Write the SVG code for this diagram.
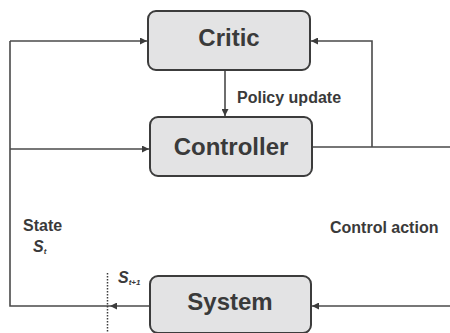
<svg xmlns="http://www.w3.org/2000/svg" width="450" height="333" viewBox="0 0 450 333">
<style>
.box{fill:#e3e3e4;stroke:#3c3c3c;stroke-width:2}
.big{font-family:"Liberation Sans",Arial,sans-serif;font-weight:bold;font-size:24px;fill:#3a3a3a;text-anchor:middle}
.lbl{font-family:"Liberation Sans",Arial,sans-serif;font-weight:bold;font-size:16px;fill:#3a3a3a}
.sym{font-family:"Liberation Sans",Arial,sans-serif;font-weight:bold;font-style:italic;fill:#3a3a3a}
.ln{fill:none;stroke:#4a4a4a;stroke-width:1.6}
</style>
<defs>
<marker id="ah" viewBox="0 0 10 10" refX="10" refY="5" markerWidth="7" markerHeight="7" markerUnits="userSpaceOnUse" orient="auto">
<path d="M0,0 L10,5 L0,10 z" fill="#3c3c3c"/>
</marker>
</defs>
<g id="connectors">
<path class="ln" d="M10,41 V306 H110"/>
<line class="ln" x1="10" y1="41" x2="147" y2="41" marker-end="url(#ah)"/>
<line class="ln" x1="10" y1="149" x2="149" y2="149" marker-end="url(#ah)"/>
<line class="ln" x1="150" y1="306" x2="110" y2="306" marker-end="url(#ah)"/>
<line class="ln" x1="225" y1="71" x2="225" y2="116" marker-end="url(#ah)"/>
<path class="ln" d="M312,147 H450 M372,147 V41 H311" marker-end="url(#ah)"/>
<line class="ln" x1="450" y1="306" x2="312" y2="306" marker-end="url(#ah)"/>
<line x1="107.5" y1="273" x2="107.5" y2="333" stroke="#3c3c3c" stroke-width="1.5" stroke-dasharray="1.5,1.5"/>
</g>
<g id="critic">
<rect class="box" x="148" y="11" width="162" height="59" rx="8"/>
<text class="big" x="229" y="46">Critic</text>
</g>
<g id="controller">
<rect class="box" x="150" y="117" width="162" height="59" rx="8"/>
<text class="big" x="231" y="155">Controller</text>
</g>
<g id="system">
<rect class="box" x="150" y="276" width="161" height="57" rx="8"/>
<text class="big" x="230" y="310">System</text>
</g>
<g id="labels">
<text class="lbl" x="237" y="103" font-size="16.4">Policy update</text>
<text class="lbl" x="330" y="233" font-size="16.4">Control action</text>
<text class="lbl" x="23" y="231">State</text>
<text class="sym" x="33" y="252" font-size="16">S<tspan font-size="8" dy="2">t</tspan></text>
<text class="sym" x="118" y="283" font-size="16">S<tspan font-size="8" dy="2">t+1</tspan></text>
</g>
</svg>
